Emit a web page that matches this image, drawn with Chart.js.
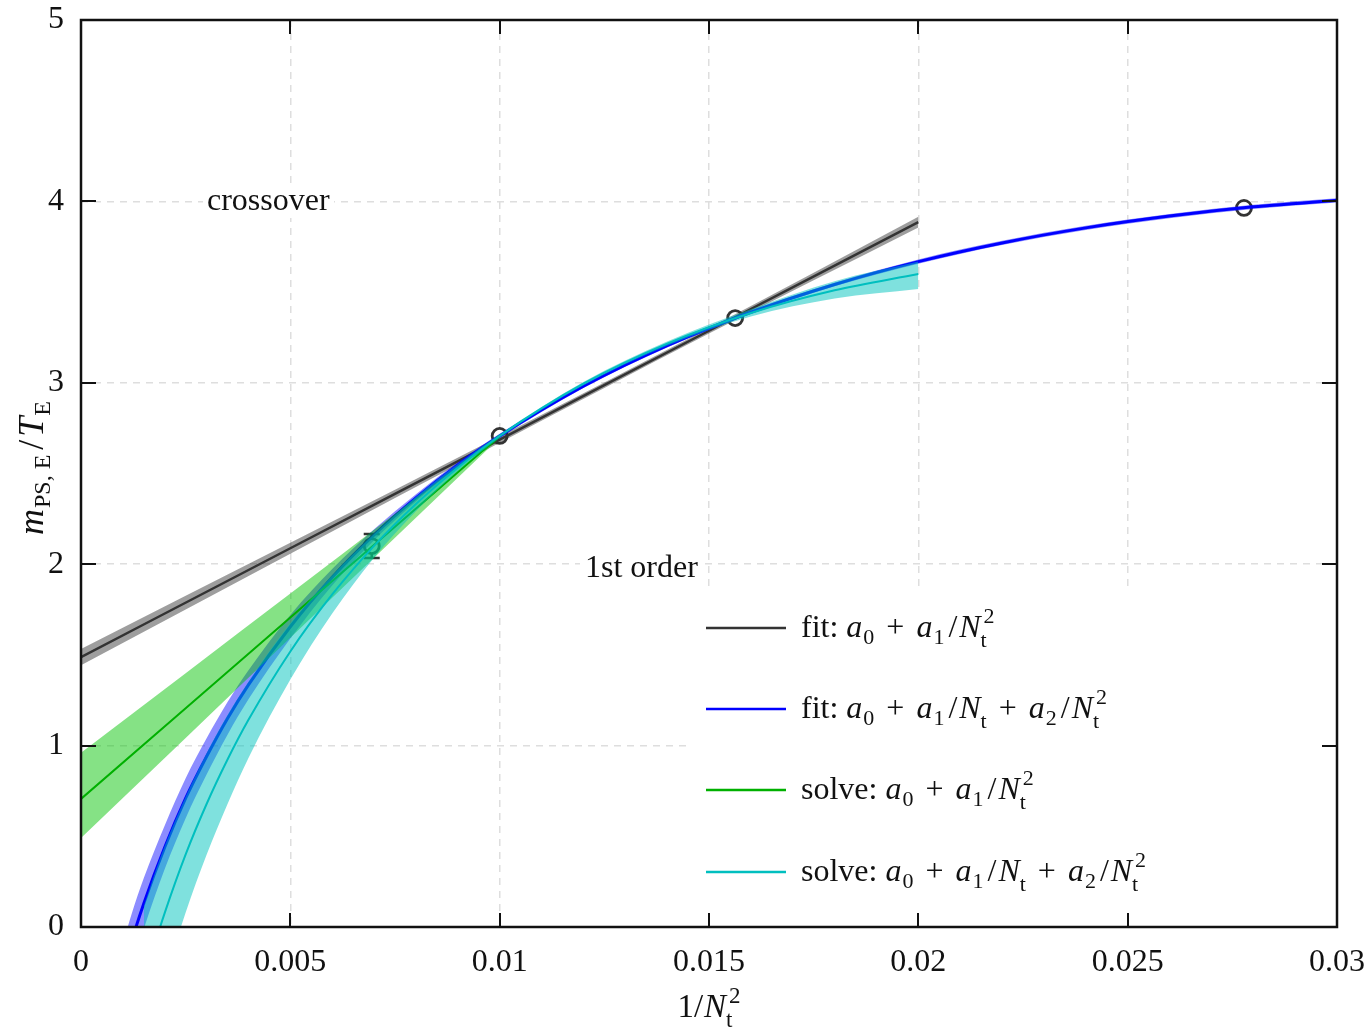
<!DOCTYPE html>
<html><head><meta charset="utf-8">
<script src="https://cdn.jsdelivr.net/npm/chart.js@4.4.1/dist/chart.umd.min.js"></script>
<style>html,body{margin:0;padding:0;background:#fff;}</style>
</head><body>
<canvas id="c" width="1367" height="1027"></canvas>
<script>
// ---------- data ----------
const xTicks = [0, 0.005, 0.01, 0.015, 0.02, 0.025, 0.03];
const xTickLabels = ['0', '0.005', '0.01', '0.015', '0.02', '0.025', '0.03'];
const yTicks = [0, 1, 2, 3, 4, 5];
const yTickLabels = ['0', '1', '2', '3', '4', '5'];

// lattice data points (1/Nt^2, m/T)
const dataX = [0.006944, 0.01, 0.015625, 0.027778];
const dataY = [2.10, 2.707, 3.357, 3.964];
const dataErr = [0.066, 0.01, 0.01, 0.01];

// fit: a0 + a1/Nt^2
const fit1X  = [0, 0.005, 0.01, 0.015, 0.02];
const fit1Y  = [1.488, 2.088, 2.687, 3.287, 3.886];
const fit1Lo = [1.443, 2.058, 2.669, 3.272, 3.856];
const fit1Hi = [1.533, 2.118, 2.705, 3.302, 3.916];

// fit: a0 + a1/Nt + a2/Nt^2
const fit2X  = [0.0008, 0.001, 0.0012, 0.0015, 0.002, 0.0025, 0.003, 0.0035, 0.004, 0.005, 0.006, 0.007, 0.008, 0.009, 0.010, 0.012, 0.014, 0.016, 0.018, 0.020, 0.022, 0.024, 0.026, 0.028, 0.030];
const fit2Y  = [-0.430, -0.250, -0.085, 0.130, 0.440, 0.710, 0.940, 1.150, 1.335, 1.655, 1.928, 2.162, 2.366, 2.547, 2.707, 2.981, 3.205, 3.389, 3.542, 3.668, 3.771, 3.854, 3.919, 3.970, 4.006];
const fit2Lo = [-0.590, -0.405, -0.235, -0.010, 0.320, 0.600, 0.840, 1.060, 1.255, 1.590, 1.883, 2.132, 2.346, 2.532, 2.695, 2.971, 3.195, 3.379, 3.532, 3.656, 3.759, 3.842, 3.907, 3.958, 3.994];
const fit2Hi = [-0.270, -0.095, 0.065, 0.270, 0.560, 0.820, 1.040, 1.240, 1.415, 1.720, 1.973, 2.192, 2.386, 2.562, 2.719, 2.991, 3.215, 3.399, 3.552, 3.680, 3.783, 3.866, 3.931, 3.982, 4.018];

// solve: a0 + a1/Nt^2
const sol1X  = [0, 0.0025, 0.005, 0.0075, 0.01];
const sol1Y  = [0.706, 1.206, 1.706, 2.207, 2.707];
const sol1Lo = [0.490, 1.042, 1.594, 2.146, 2.697];
const sol1Hi = [0.960, 1.399, 1.838, 2.278, 2.717];

// solve: a0 + a1/Nt + a2/Nt^2
const sol2X  = [0.0015, 0.0018, 0.002, 0.0025, 0.003, 0.0035, 0.004, 0.005, 0.006, 0.007, 0.008, 0.009, 0.010, 0.012, 0.014, 0.016, 0.018, 0.020];
const sol2Y  = [-0.306, -0.067, 0.078, 0.400, 0.678, 0.923, 1.142, 1.519, 1.833, 2.101, 2.332, 2.532, 2.707, 2.995, 3.216, 3.385, 3.510, 3.600];
const sol2Lo = [-0.726, -0.457, -0.292, 0.080, 0.398, 0.678, 0.932, 1.364, 1.728, 2.036, 2.292, 2.512, 2.697, 2.985, 3.204, 3.365, 3.465, 3.517];
const sol2Hi = [0.114, 0.323, 0.448, 0.720, 0.958, 1.168, 1.352, 1.674, 1.938, 2.166, 2.372, 2.552, 2.717, 3.005, 3.228, 3.405, 3.560, 3.668];

// ---------- helpers ----------
const pts = (xs, ys) => xs.map((x, i) => ({x: x, y: ys[i]}));
const FONT = '"Liberation Serif", "Times New Roman", serif';
const FS = 32, SS = 22;

function band(xs, lo, hi, color, order) {
  return [
    {data: pts(xs, lo), showLine: true, borderWidth: 0, pointRadius: 0, fill: false, order: order, cubicInterpolationMode: 'monotone', borderColor: 'rgba(0,0,0,0)'},
    {data: pts(xs, hi), showLine: true, borderWidth: 0, pointRadius: 0, fill: '-1', backgroundColor: color, order: order, cubicInterpolationMode: 'monotone', borderColor: 'rgba(0,0,0,0)'}
  ];
}
function line(xs, ys, color, w, order) {
  return {data: pts(xs, ys), showLine: true, borderColor: color, borderWidth: w, pointRadius: 0, fill: false, order: order, cubicInterpolationMode: 'monotone'};
}

const datasets = [
  {data: pts(dataX, dataY), showLine: false, pointRadius: 7.5, pointBorderWidth: 2.8, pointBorderColor: '#333', pointBackgroundColor: 'rgba(0,0,0,0)', order: 100},
  ...band(fit1X, fit1Lo, fit1Hi, 'rgba(40,40,40,0.45)', 90),
  line(fit1X, fit1Y, '#333333', 2.5, 89),
  ...band(fit2X, fit2Lo, fit2Hi, 'rgba(0,0,255,0.45)', 80),
  line(fit2X, fit2Y, '#0000ff', 3, 79),
  ...band(sol1X, sol1Lo, sol1Hi, 'rgba(0,195,0,0.48)', 70),
  line(sol1X, sol1Y, '#00b000', 2, 69),
  ...band(sol2X, sol2Lo, sol2Hi, 'rgba(0,195,190,0.5)', 60),
  line(sol2X, sol2Y, '#00bfbf', 2, 59)
];

// rich text: parts {t, it} | {s, u, it} | {g}
function drawRich(ctx, x, y, parts, opt, measureOnly) {
  const fs = opt.fs, ss = opt.ss;
  let cx = x;
  for (const p of parts) {
    if (p.g !== undefined) { cx += p.g; continue; }
    if (p.s !== undefined || p.u !== undefined) {
      let w = 0;
      ctx.font = (p.it ? 'italic ' : '') + ss + 'px ' + FONT;
      if (p.s !== undefined) {
        const so = p.so || 0;
        if (!measureOnly) ctx.fillText(p.s, cx + so, y + (p.sy || opt.sub));
        w = Math.max(w, ctx.measureText(p.s).width + so);
      }
      if (p.u !== undefined) {
        const uo = p.uo || 0;
        if (!measureOnly) ctx.fillText(p.u, cx + uo, y - opt.sup);
        w = Math.max(w, ctx.measureText(p.u).width + uo);
      }
      cx += w;
    } else {
      ctx.font = (p.it ? 'italic ' : '') + fs + 'px ' + FONT;
      if (!measureOnly) ctx.fillText(p.t, cx, y);
      cx += ctx.measureText(p.t).width;
    }
  }
  return cx - x;
}
const A = (n) => [{t: 'a', it: true}, {g: 1}, {s: n}];
const PLUS = [{g: 12}, {t: '+'}, {g: 12}];
const SL = [{g: 4}, {t: '/'}, {g: 2}];
const NT2 = [{t: 'N', it: true}, {s: 't', u: '2', sy: 10, uo: 3}];
const NT = [{t: 'N', it: true}, {s: 't', sy: 10}];
const legendItems = [
  {color: '#333333', parts: [{t: 'fit: '}, ...A('0'), ...PLUS, ...A('1'), ...SL, ...NT2]},
  {color: '#0000ff', parts: [{t: 'fit: '}, ...A('0'), ...PLUS, ...A('1'), ...SL, ...NT, ...PLUS, ...A('2'), ...SL, ...NT2]},
  {color: '#00b000', parts: [{t: 'solve: '}, ...A('0'), ...PLUS, ...A('1'), ...SL, ...NT2]},
  {color: '#00bfbf', parts: [{t: 'solve: '}, ...A('0'), ...PLUS, ...A('1'), ...SL, ...NT, ...PLUS, ...A('2'), ...SL, ...NT2]}
];
const legendY = [628, 709, 790, 872];
const LOPT = {fs: FS, ss: SS, sub: 7, sup: 14};

const decor = {
  id: 'decor',
  beforeDatasetsDraw(chart) {
    const ctx = chart.ctx, xs = chart.scales.x, ys = chart.scales.y;
    ctx.save();
    // white boxes hiding grid
    ctx.fillStyle = '#fff';
    ctx.fillRect(203, 186, 131, 32);
    ctx.fillRect(580, 549, 123, 36);
    ctx.fillRect(690, 588, 650, 339);
    ctx.fillStyle = '#111';
    ctx.textBaseline = 'alphabetic';
    ctx.font = FS + 'px ' + FONT;
    ctx.fillText('crossover', 207, 210);
    ctx.fillText('1st order', 585, 577);
    // error bars (drawn beneath bands like the data points)
    ctx.strokeStyle = '#333';
    ctx.lineWidth = 2.5;
    const r = 7.5;
    dataX.forEach((x, i) => {
      const px = xs.getPixelForValue(x);
      const py = ys.getPixelForValue(dataY[i]);
      const top = ys.getPixelForValue(dataY[i] + dataErr[i]);
      const bot = ys.getPixelForValue(dataY[i] - dataErr[i]);
      if (py - top > r + 1) {
        ctx.beginPath();
        ctx.moveTo(px, py - r); ctx.lineTo(px, top);
        ctx.moveTo(px, py + r); ctx.lineTo(px, bot);
        ctx.moveTo(px - 8, top); ctx.lineTo(px + 8, top);
        ctx.moveTo(px - 8, bot); ctx.lineTo(px + 8, bot);
        ctx.stroke();
      }
    });
    ctx.restore();
  },
  afterDraw(chart) {
    const ctx = chart.ctx, a = chart.chartArea, xs = chart.scales.x, ys = chart.scales.y;
    ctx.save();
    // frame
    ctx.strokeStyle = '#111';
    ctx.lineWidth = 2.5;
    ctx.strokeRect(a.left, a.top, a.right - a.left, a.bottom - a.top);
    // inward ticks on all four sides
    ctx.lineWidth = 2;
    ctx.beginPath();
    xTicks.forEach(v => {
      const p = Math.round(xs.getPixelForValue(v));
      ctx.moveTo(p, a.bottom); ctx.lineTo(p, a.bottom - 14);
      ctx.moveTo(p, a.top); ctx.lineTo(p, a.top + 14);
    });
    yTicks.forEach(v => {
      const p = Math.round(ys.getPixelForValue(v));
      ctx.moveTo(a.left, p); ctx.lineTo(a.left + 15, p);
      ctx.moveTo(a.right, p); ctx.lineTo(a.right - 15, p);
    });
    ctx.stroke();
    // legend
    ctx.fillStyle = '#111';
    ctx.textBaseline = 'alphabetic';
    legendItems.forEach((it, i) => {
      const y = legendY[i];
      ctx.strokeStyle = it.color;
      ctx.lineWidth = 2.5;
      ctx.beginPath(); ctx.moveTo(706, y); ctx.lineTo(786, y); ctx.stroke();
      drawRich(ctx, 801, y + 9, it.parts, LOPT);
    });
    // x axis title
    const XOPT = {fs: 33, ss: 23, sub: 8, sup: 14};
    const xParts = [{t: '1/'}, {g: 1}, ...NT2];
    const xw = drawRich(ctx, 0, 0, xParts, XOPT, true);
    drawRich(ctx, (a.left + a.right) / 2 - xw / 2, 1017, xParts, XOPT);
    // y axis title (rotated)
    const YOPT = {fs: 36, ss: 24, sub: 7, sup: 14};
    const yParts = [{t: 'm', it: true}, {g: 1}, {s: 'PS, E'}, {g: 5}, {t: '/'}, {g: 3}, {t: 'T', it: true}, {g: 1}, {s: 'E'}];
    const yw = drawRich(ctx, 0, 0, yParts, YOPT, true);
    ctx.translate(43, 468 + yw / 2);
    ctx.rotate(-Math.PI / 2);
    drawRich(ctx, 0, 0, yParts, YOPT);
    ctx.restore();
  }
};

new Chart(document.getElementById('c'), {
  type: 'scatter',
  data: {datasets: datasets},
  options: {
    responsive: false,
    animation: false,
    devicePixelRatio: 1,
    layout: {padding: {top: 20, right: 30, left: 0, bottom: 0}},
    plugins: {legend: {display: false}, tooltip: {enabled: false}},
    scales: {
      x: {
        type: 'linear', min: 0, max: 0.03,
        afterBuildTicks: s => { s.ticks = xTicks.map(v => ({value: v})); },
        afterFit: s => { s.height = 100; s.paddingLeft = 0; s.paddingRight = 0; },
        grid: {color: '#dedede', lineWidth: 1.5, drawTicks: false},
        border: {display: false, dash: [7, 6]},
        ticks: {
          padding: 16, color: '#111', font: {family: FONT, size: FS}, maxRotation: 0, autoSkip: false,
          callback: (v, i) => xTickLabels[i]
        }
      },
      y: {
        type: 'linear', min: 0, max: 5,
        afterBuildTicks: s => { s.ticks = yTicks.map(v => ({value: v})); },
        afterFit: s => { s.width = 81; s.paddingTop = 0; s.paddingBottom = 0; },
        grid: {color: '#dedede', lineWidth: 1.5, drawTicks: false},
        border: {display: false, dash: [7, 6]},
        ticks: {
          padding: 17, color: '#111', font: {family: FONT, size: FS}, autoSkip: false,
          callback: (v, i) => yTickLabels[i]
        }
      }
    }
  },
  plugins: [decor]
});
</script>
</body></html>
